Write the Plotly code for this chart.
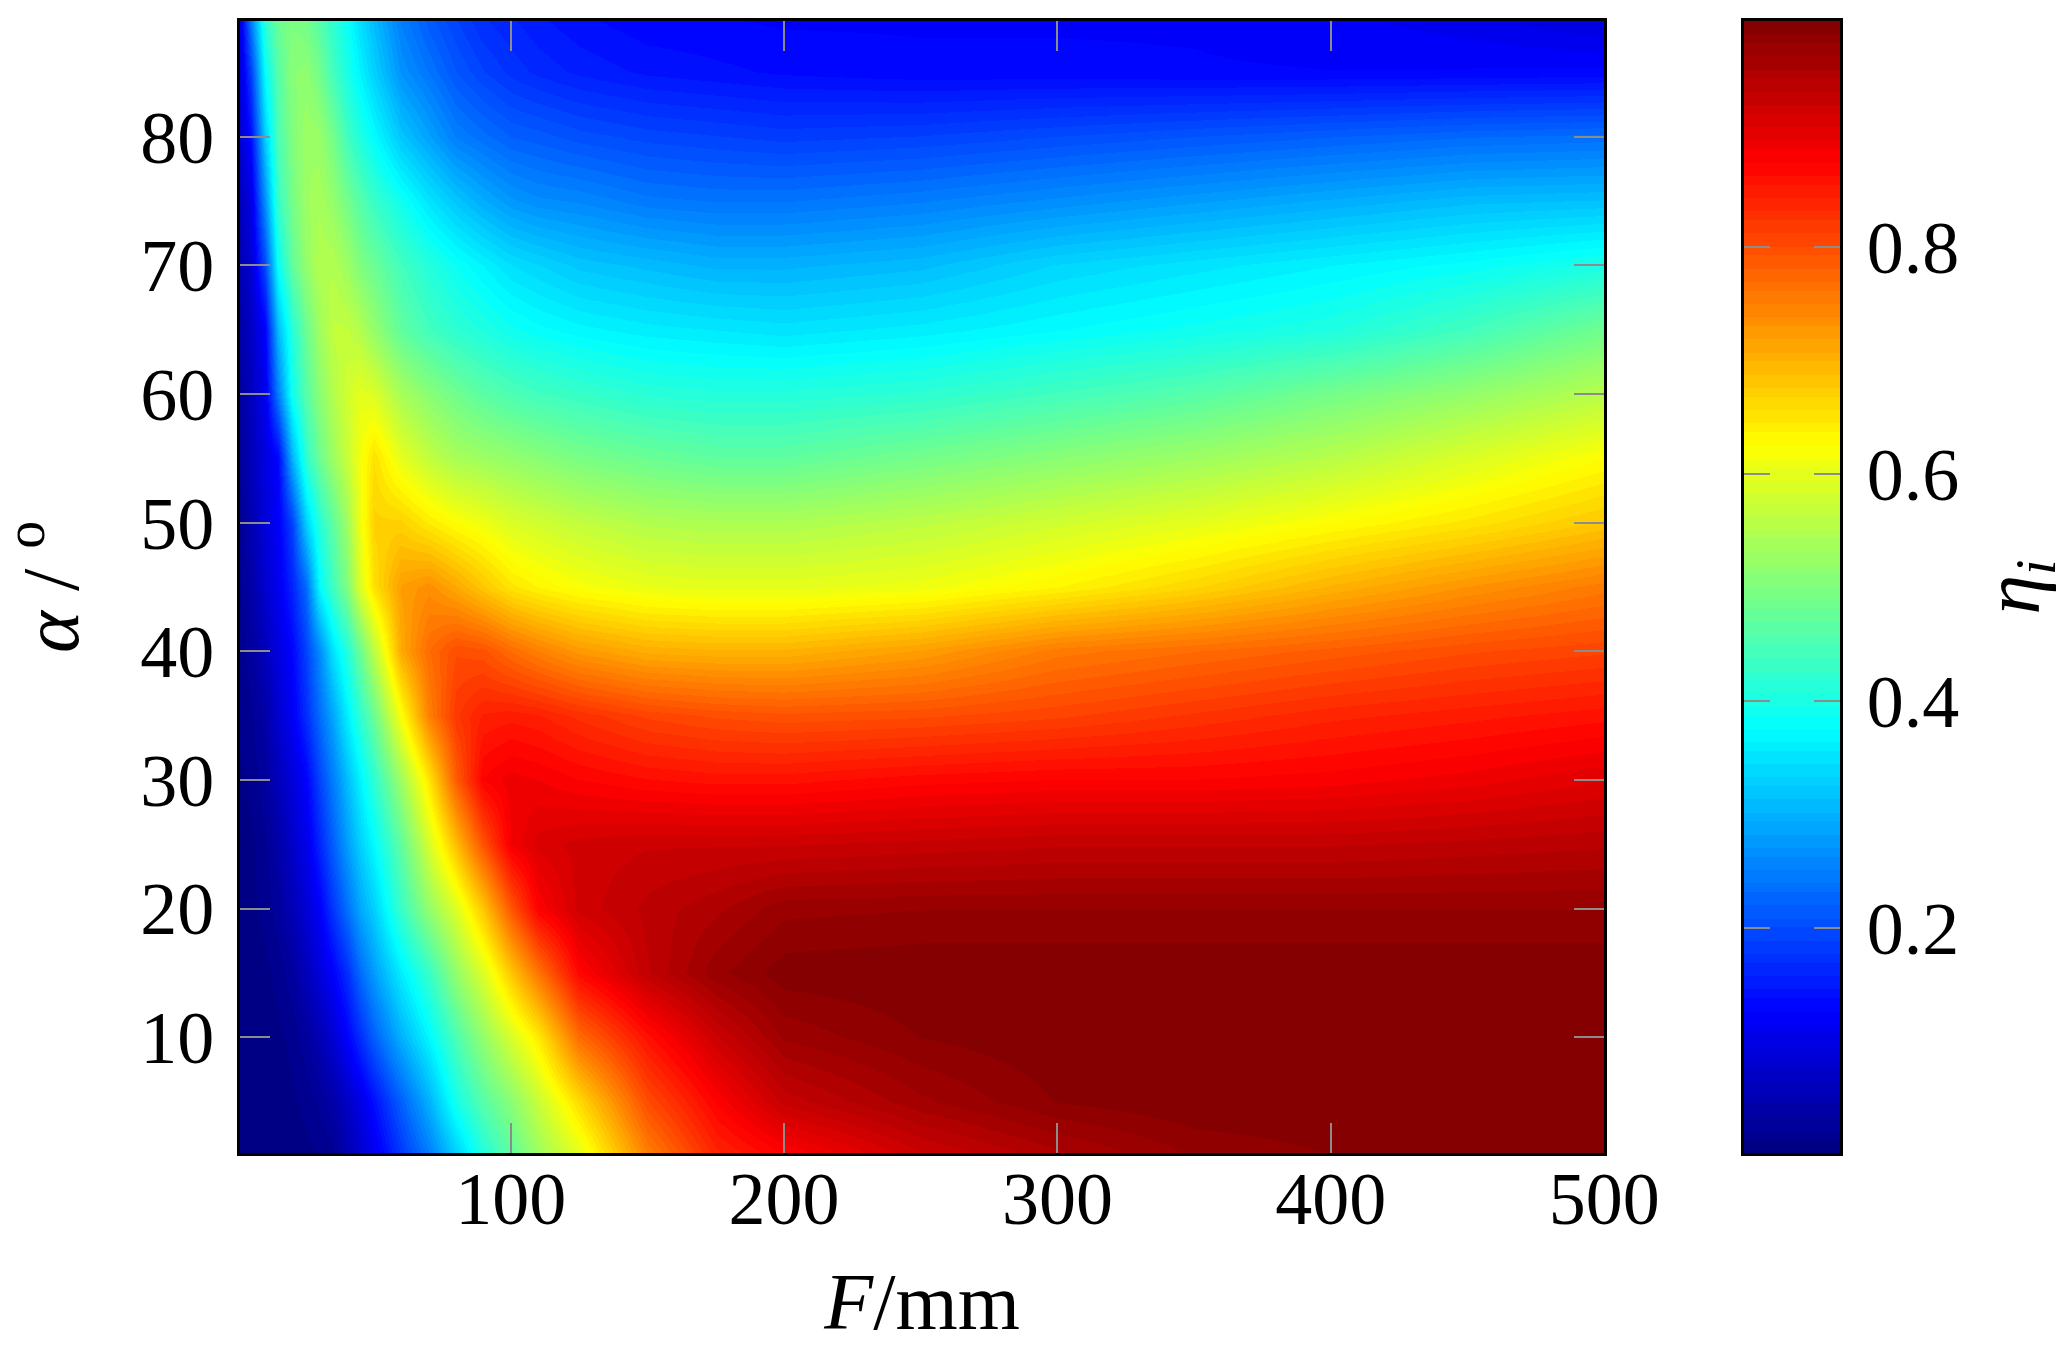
import plotly.graph_objects as go

F_mm = [1, 5, 10, 15, 20, 25, 30, 35, 40, 45, 50, 60, 70, 80, 90, 100, 110, 125, 150, 175, 200, 250, 300, 350, 400, 450, 500]
alpha_deg = [1, 5, 10, 15, 20, 25, 30, 35, 40, 45, 50, 55, 60, 65, 70, 75, 80, 85, 89]

eta_a01 = [.01,.01,.01,.01,.01,.01,.012,.02,.05,.08,.11,.18,.25,.33,.41,.47,.53,.60,.75,.84,.875,.925,.955,.98,.989,.992,.992]
eta_a05 = [.01,.01,.01,.01,.01,.015,.025,.04,.07,.10,.14,.22,.30,.395,.46,.51,.57,.66,.80,.875,.93,.965,.989,.998,.998,.998,.998]
eta_a10 = [.01,.01,.01,.01,.015,.03,.05,.085,.125,.17,.22,.30,.37,.45,.52,.585,.645,.77,.86,.925,.97,.989,.998,.998,.998,.998,.998]
eta_a15 = [.01,.01,.01,.015,.03,.06,.09,.125,.17,.23,.28,.36,.43,.52,.59,.68,.76,.87,.935,.975,.995,.998,.998,.998,.998,.998,.998]
eta_a20 = [.01,.01,.015,.03,.055,.085,.12,.18,.235,.29,.33,.43,.52,.59,.68,.79,.875,.92,.94,.955,.975,.978,.978,.978,.978,.978,.978]
eta_a25 = [.01,.01,.02,.04,.075,.105,.16,.22,.28,.33,.375,.47,.585,.69,.795,.885,.91,.92,.925,.925,.925,.93,.935,.935,.935,.94,.945]
eta_a30 = [.01,.015,.03,.06,.09,.125,.19,.25,.31,.365,.42,.53,.65,.785,.875,.89,.885,.875,.865,.86,.86,.87,.875,.875,.88,.89,.905]
eta_a35 = [.015,.02,.04,.08,.115,.17,.23,.29,.36,.42,.48,.62,.75,.82,.845,.85,.845,.83,.81,.80,.795,.80,.81,.825,.84,.85,.86]
eta_a40 = [.015,.03,.06,.095,.13,.19,.26,.35,.41,.48,.56,.71,.77,.80,.795,.77,.75,.725,.705,.70,.70,.72,.755,.77,.785,.80,.81]
eta_a45 = [.02,.04,.08,.11,.16,.23,.37,.44,.50,.59,.655,.72,.735,.71,.68,.65,.635,.62,.605,.60,.60,.61,.635,.665,.70,.73,.755]
eta_a50 = [.02,.05,.09,.12,.19,.33,.41,.47,.53,.61,.67,.67,.645,.625,.61,.59,.58,.565,.55,.545,.545,.56,.58,.60,.625,.65,.68]
eta_a55 = [.025,.06,.095,.13,.30,.42,.48,.53,.57,.615,.655,.60,.565,.54,.53,.52,.51,.495,.48,.47,.47,.49,.51,.53,.555,.59,.625]
eta_a60 = [.03,.065,.11,.25,.39,.46,.51,.55,.58,.60,.59,.54,.51,.485,.465,.45,.44,.43,.415,.41,.41,.42,.44,.46,.49,.52,.555]
eta_a65 = [.04,.07,.125,.31,.41,.48,.53,.565,.565,.55,.52,.47,.44,.42,.405,.39,.38,.37,.36,.355,.35,.36,.375,.39,.405,.44,.485]
eta_a70 = [.05,.085,.20,.385,.47,.52,.55,.55,.53,.50,.48,.44,.41,.385,.365,.345,.335,.32,.31,.30,.30,.31,.335,.35,.365,.38,.40]
eta_a75 = [.06,.10,.27,.43,.49,.53,.54,.52,.49,.46,.43,.39,.35,.32,.295,.275,.265,.26,.245,.24,.24,.25,.265,.28,.295,.31,.315]
eta_a80 = [.08,.14,.33,.45,.50,.53,.525,.49,.44,.405,.375,.32,.285,.25,.235,.22,.215,.205,.195,.19,.185,.19,.20,.21,.22,.23,.235]
eta_a85 = [.09,.19,.38,.46,.51,.515,.49,.44,.40,.365,.33,.27,.24,.21,.19,.175,.165,.155,.145,.14,.135,.13,.13,.128,.127,.128,.13]
eta_a89 = [.10,.25,.42,.48,.50,.49,.46,.42,.385,.345,.31,.25,.215,.19,.17,.16,.15,.14,.13,.128,.125,.125,.125,.125,.12,.11,.095]

x_ticks = [100, 200, 300, 400, 500]
y_ticks = [10, 20, 30, 40, 50, 60, 70, 80]
bar_ticks = [0.2, 0.4, 0.6, 0.8]
eta_min, eta_max = 0.002, 0.999

eta_grid = [eta_a01, eta_a05, eta_a10, eta_a15, eta_a20, eta_a25, eta_a30, eta_a35, eta_a40, eta_a45,
            eta_a50, eta_a55, eta_a60, eta_a65, eta_a70, eta_a75, eta_a80, eta_a85, eta_a89]

# pgfplots "jet" anchors, quantised into discrete colour steps like the reference
JET = [(0, (0, 0, 128)), (.125, (0, 0, 255)), (.375, (0, 255, 255)), (.625, (255, 255, 0)),
       (.875, (255, 0, 0)), (1, (128, 0, 0))]
def jet(t):
    for (a, ca), (b, cb) in zip(JET, JET[1:]):
        if t <= b:
            f = (t - a) / (b - a)
            return "rgb(%d,%d,%d)" % tuple(round(p + (q - p) * f) for p, q in zip(ca, cb))
    return "rgb(128,0,0)"
STEPS = 96
scale = []
for i in range(STEPS):
    c = jet((i + .5) / STEPS)
    scale += [[i / STEPS, c], [(i + 1) / STEPS, c]]

bar_levels = [eta_min + (eta_max - eta_min) * (i + .5) / 256 for i in range(256)]

SERIF = "Liberation Serif"
TICK_SIZE = 74
TITLE_SIZE = 80
fig = go.Figure()
fig.add_trace(go.Heatmap(x=F_mm, y=alpha_deg, z=eta_grid, zsmooth="best", colorscale=scale,
                         zmin=eta_min, zmax=eta_max, showscale=False, xaxis="x", yaxis="y"))
fig.add_trace(go.Heatmap(x=[0, 1], y=bar_levels, z=[[v, v] for v in bar_levels], colorscale=scale,
                         zmin=eta_min, zmax=eta_max, showscale=False, xaxis="x2", yaxis="y2"))

frame = dict(showline=True, linecolor="black", linewidth=3, mirror="allticks", showgrid=False, zeroline=False,
             ticks="inside", ticklen=30, tickwidth=2, tickcolor="#8c8c8c", automargin=False,
             tickfont=dict(family=SERIF, size=TICK_SIZE, color="black"))
title_font = dict(size=TITLE_SIZE, family=SERIF, color="black")
fig.update_layout(
    width=2051, height=1345, margin=dict(l=232, r=219, t=13, b=200),
    paper_bgcolor="white", plot_bgcolor="white",
    font=dict(family=SERIF, color="black"), showlegend=False,
    xaxis=dict(frame, domain=[0, 1364.2 / 1600], range=[1, 500], tickvals=x_ticks, anchor="y", ticklabelstandoff=-21,
               title=dict(text="<i>F</i>/mm", font=title_font, standoff=35)),
    yaxis=dict(frame, range=[1, 89], tickvals=y_ticks, anchor="x", ticklabelstandoff=8),
    xaxis2=dict(domain=[1504 / 1600, 1], range=[0, 1], anchor="y2", showticklabels=False, ticks="", automargin=False,
                showline=True, linecolor="black", linewidth=3, mirror=True, showgrid=False, zeroline=False),
    yaxis2=dict(frame, range=[eta_min, eta_max], tickvals=bar_ticks, ticktext=["0.2", "0.4", "0.6", "0.8"],
                anchor="x2", side="right", ticklen=26, ticklabelstandoff=9),
    annotations=[
        dict(text="<i>α</i> / <sup>o</sup>", xref="paper", yref="paper", x=-0.1225, y=0.5, textangle=-90,
             showarrow=False, font=title_font, xanchor="center", yanchor="middle"),
        dict(text="<i>η<sub>i</sub></i>", xref="paper", yref="paper", x=1.111, y=0.5, textangle=-90,
             showarrow=False, font=title_font, xanchor="center", yanchor="middle"),
    ],
)
fig.write_html("out.html")
